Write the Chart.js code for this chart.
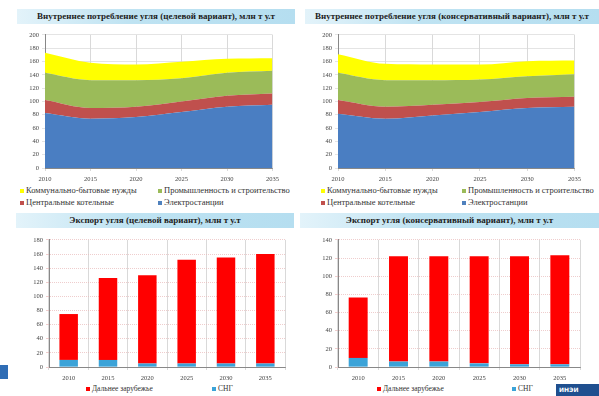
<!DOCTYPE html>
<html>
<head>
<meta charset="utf-8">
<script src="https://cdn.jsdelivr.net/npm/chart.js@4.4.1/dist/chart.umd.min.js"></script>
<style>
  body { margin: 0; background: #fff; width: 599px; height: 396px; overflow: hidden; position: relative; font-family: "Liberation Serif", serif; }
  .band { position: absolute; height: 15px; line-height: 15px; text-align: center; font-size: 9px; font-weight: bold; color: #222;
          background: linear-gradient(to right, #e3f3fa 0%, #bfe3f2 40%, #b5def0 100%); white-space: nowrap; overflow: hidden; }
  canvas { position: absolute; }
  .leg { position: absolute; font-size: 8.5px; color: #333; white-space: nowrap; }
  .leg i { display: inline-block; width: 4px; height: 4px; margin-right: 2px; vertical-align: middle; }
  .logoL { position: absolute; left: 0; top: 365px; width: 8px; height: 14px; background: #2f6db5; }
  .logoR { position: absolute; left: 556px; top: 384px; width: 43px; height: 12px; background: #1f4f8f; color: #fff; font: bold 6px "DejaVu Sans"; line-height: 12px; padding-left: 3px; box-sizing: border-box; }
</style>
</head>
<body>
<div class="band" style="left:17px;top:9px;width:278px">Внутреннее потребление угля (целевой вариант), млн т у.т</div>
<div class="band" style="left:305px;top:9px;width:294px">Внутреннее потребление угля (консервативный вариант), млн т у.т</div>
<div class="band" style="left:16px;top:213px;width:278px">Экспорт угля (целевой вариант), млн т у.т</div>
<div class="band" style="left:300px;top:213px;width:299px">Экспорт угля (консервативный вариант), млн т у.т</div>

<canvas id="c1"></canvas>
<canvas id="c2"></canvas>
<canvas id="c3"></canvas>
<canvas id="c4"></canvas>

<div class="leg" style="left:20px;top:185px"><i style="background:#ffff00"></i>Коммунально-бытовые нужды</div>
<div class="leg" style="left:158px;top:185px"><i style="background:#9bbb59"></i>Промышленность и строительство</div>
<div class="leg" style="left:20px;top:197px"><i style="background:#c0504d"></i>Центральные котельные</div>
<div class="leg" style="left:158px;top:197px"><i style="background:#4f81bd"></i>Электростанции</div>

<div class="leg" style="left:321px;top:185px"><i style="background:#ffff00"></i>Коммунально-бытовые нужды</div>
<div class="leg" style="left:462px;top:185px"><i style="background:#9bbb59"></i>Промышленность и строительство</div>
<div class="leg" style="left:321px;top:197px"><i style="background:#c0504d"></i>Центральные котельные</div>
<div class="leg" style="left:462px;top:197px"><i style="background:#4f81bd"></i>Электростанции</div>

<div class="leg" style="left:86px;top:384px;font-size:7.5px"><i style="background:#ff0000"></i>Дальнее зарубежье</div>
<div class="leg" style="left:212px;top:384px;font-size:7.5px"><i style="background:#3ba3d8"></i>СНГ</div>
<div class="leg" style="left:377px;top:384px;font-size:7.5px"><i style="background:#ff0000"></i>Дальнее зарубежье</div>
<div class="leg" style="left:512px;top:384px;font-size:7.5px"><i style="background:#3ba3d8"></i>СНГ</div>

<div class="logoL"></div>
<div class="logoR">ИНЭИ</div>

<script>
// годы
const years = ['2010', '2015', '2020', '2025', '2030', '2035'];

// внутреннее потребление, целевой вариант (млн т у.т)
const tgtPower = [82.5, 74, 76.5, 84, 92, 95];
const tgtBoilers = [19.5, 16, 15.5, 16, 16.5, 17];
const tgtIndustry = [41, 42, 40, 35, 34.5, 34];
const tgtHouse = [30, 26, 23.5, 24.5, 21, 19];

// внутреннее потребление, консервативный вариант
const consPower = [81.5, 74, 79, 84, 90, 92];
const consBoilers = [20.5, 18, 16, 15, 15, 15];
const consIndustry = [41, 40, 37, 34, 33, 34];
const consHouse = [28, 24.5, 23.5, 22.5, 22.5, 20.5];

// экспорт, целевой вариант
const tgtFar = [65, 116, 125, 147, 150, 155];
const tgtCis = [10, 10, 5, 5, 5, 5];

// экспорт, консервативный вариант
const consFar = [66.5, 116, 116, 118, 119, 120];
const consCis = [10, 6, 6, 4, 3, 3];

const AXW = 30, AXH = 17; // ширина оси Y и высота оси X

function place(id, left, top, right, bottom) {
    // left..bottom = границы области построения
    const c = document.getElementById(id);
    const w = right - left + AXW + 5, h = bottom - top + 5 + AXH;
    c.style.left = (left - AXW) + 'px';
    c.style.top = (top - 5) + 'px';
    c.style.width = w + 'px';
    c.style.height = h + 'px';
    c.width = w; c.height = h;
    return c.getContext('2d');
}

const tickFont = { family: 'Liberation Serif', size: 6.5 };

function areaChart(ctx, series, max) {
    const colors = ['#4a7ec2', '#c0504d', '#9bbb59', '#ffff00'];
    new Chart(ctx, {
        type: 'line',
        data: {
            labels: years,
            datasets: series.map((s, i) => ({
                data: s,
                backgroundColor: colors[i],
                borderWidth: 0,
                pointRadius: 0,
                fill: i === 0 ? 'origin' : '-1',
                cubicInterpolationMode: 'monotone'
            }))
        },
        options: {
            responsive: false,
            animation: false,
            layout: { padding: { top: 5, right: 5 } },
            plugins: { legend: { display: false }, tooltip: { enabled: false } },
            scales: {
                x: {
                    offset: false,
                    grid: { color: '#c8c8c8', lineWidth: 0.7, drawTicks: true, tickLength: 3 },
                    border: { color: '#888' },
                    ticks: { font: tickFont, color: '#444', padding: 4, maxRotation: 0 },
                    afterFit: s => { s.height = AXH; }
                },
                y: {
                    stacked: true, min: 0, max: max,
                    grid: { color: '#d8d8d8', lineWidth: 0.7, tickLength: 3 },
                    border: { color: '#888' },
                    ticks: { stepSize: 20, font: tickFont, color: '#444', padding: 3 },
                    afterFit: s => { s.width = AXW; }
                }
            }
        }
    });
}

function barChart(ctx, cis, far, max) {
    new Chart(ctx, {
        type: 'bar',
        data: {
            labels: years,
            datasets: [
                { label: 'СНГ', data: cis, backgroundColor: '#3ba3d8', barPercentage: 0.47, categoryPercentage: 1 },
                { label: 'Дальнее зарубежье', data: far, backgroundColor: '#ff0000', barPercentage: 0.47, categoryPercentage: 1 }
            ]
        },
        options: {
            responsive: false,
            animation: false,
            layout: { padding: { top: 5, right: 5 } },
            plugins: { legend: { display: false }, tooltip: { enabled: false } },
            scales: {
                x: {
                    stacked: true,
                    grid: { color: '#c8c8c8', lineWidth: 0.7, offset: true, tickLength: 3 },
                    border: { color: '#888' },
                    ticks: { font: tickFont, color: '#444', padding: 4 },
                    afterFit: s => { s.height = AXH; }
                },
                y: {
                    stacked: true, min: 0, max: max,
                    grid: { color: '#e8b8b8', lineWidth: 0.7, tickLength: 3 },
                    border: { color: '#888', dash: [1, 1] },
                    ticks: { stepSize: 20, font: tickFont, color: '#444', padding: 3 },
                    afterFit: s => { s.width = AXW; }
                }
            }
        }
    });
}

areaChart(place('c1', 45, 33, 278, 168), [tgtPower, tgtBoilers, tgtIndustry, tgtHouse], 200);
areaChart(place('c2', 338, 33, 580, 168), [consPower, consBoilers, consIndustry, consHouse], 200);
barChart(place('c3', 49, 238, 285, 367), tgtCis, tgtFar, 180);
barChart(place('c4', 338, 238, 580, 367), consCis, consFar, 140);
</script>
</body>
</html>
